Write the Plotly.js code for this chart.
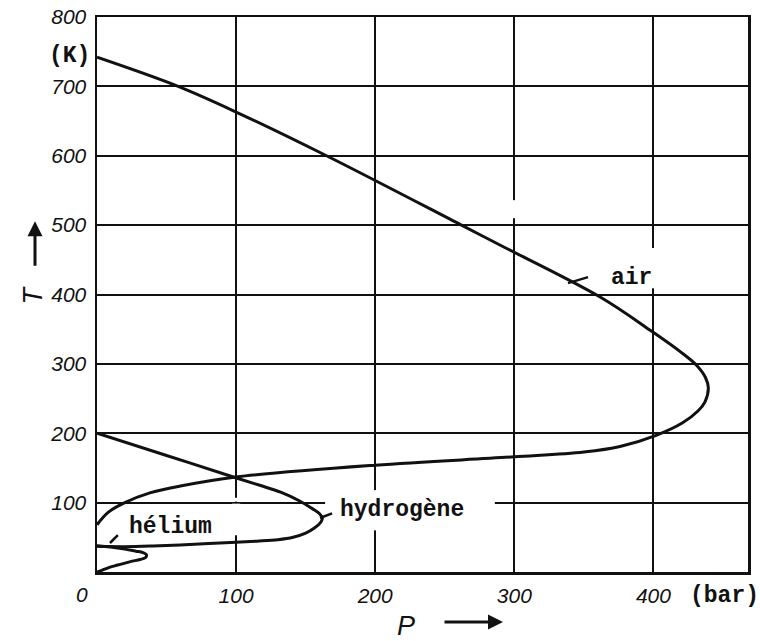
<!DOCTYPE html>
<html>
<head>
<meta charset="utf-8">
<script src="https://cdn.plot.ly/plotly-3.0.1.min.js"></script>
<style>html,body{margin:0;padding:0;background:#fff;}#chart{width:760px;height:641px;}</style>
</head>
<body>
<div id="chart"></div>
<script>
// Inversion curves (Joule-Thomson): pressure p (bar) vs temperature T (K)
const airP = [0, 57, 100, 165, 262, 290, 362, 398, 419, 431, 437.5, 439.5, 437, 432, 421, 402, 376, 350, 300, 200, 100, 60, 38, 20, 8, 0];
const airT = [742, 701, 663, 600, 500, 471, 396, 348, 318, 298, 280, 265, 245, 232, 215, 197, 181, 173, 166, 154, 137, 124, 114, 100, 86, 68];

const h2P = [0, 50, 98, 117, 132, 145, 155, 160, 162, 161, 156, 150, 141, 130, 115, 100, 70, 40, 20, 0];
const h2T = [200, 168, 137, 125, 115, 103, 91, 84, 78, 72, 63, 56, 50, 46.5, 44.5, 43, 40, 37.5, 36.5, 37];

const heP = [0, 10, 20, 28, 33, 35.5, 35, 31, 24, 15, 8, 3, 0];
const heT = [38, 36, 33, 30, 28, 25, 21, 18, 15, 10, 6, 2, 0];

const xTicks = [100, 200, 300, 400];
const yTicks = [100, 200, 300, 400, 500, 600, 700, 800];

const labels = [
  {text: 'air', p: 384.6, T: 423.6},
  {text: 'hydrogène', p: 219, T: 89},
  {text: 'hélium', p: 52.5, T: 65}
];

const curveLine = {color: '#111', width: 3, shape: 'spline', smoothing: 1};
const traces = [
  {x: airP, y: airT, mode: 'lines', line: curveLine, name: 'air', hoverinfo: 'skip'},
  {x: h2P, y: h2T, mode: 'lines', line: curveLine, name: 'hydrogène', hoverinfo: 'skip'},
  {x: heP, y: heT, mode: 'lines', line: curveLine, name: 'hélium', hoverinfo: 'skip'}
];

const typeFont = {family: 'Liberation Mono, DejaVu Sans Mono, monospace', size: 23, color: '#111', weight: 'bold'};
const tickFontX = {family: 'Liberation Sans, DejaVu Sans, sans-serif', size: 21, color: '#111', style: 'italic'};
const tickFontY = {family: 'Liberation Sans, DejaVu Sans, sans-serif', size: 21, color: '#111', style: 'italic'};
const bigItalic = {family: 'Liberation Sans, sans-serif', size: 27, color: '#111', style: 'italic'};

const px = v => (v - 97) / 651;
const py = v => (572 - v) / 554;

const annotations = labels.map(l => ({
  x: l.p, y: l.T, xref: 'x', yref: 'y', text: l.text, showarrow: false, font: typeFont,
  xanchor: 'center', yanchor: 'middle'
}));
const paperText = (x, y, text, font, extra) => Object.assign({
  xref: 'paper', yref: 'paper', x: px(x), y: py(y), text, showarrow: false, font,
  xanchor: 'center', yanchor: 'middle'
}, extra || {});
annotations.push(
  paperText(69, 57, '(K)', typeFont),
  paperText(724, 596, '(bar)', typeFont),
  paperText(82, 594, '0', tickFontX),
  paperText(406, 626, 'P', bigItalic),
  paperText(33, 296, 'T', bigItalic, {textangle: -90}),
  {xref: 'paper', yref: 'paper', x: px(35), y: py(222), text: '', showarrow: true,
   ax: 0, ay: 46, arrowhead: 2, arrowsize: 1, arrowwidth: 3, arrowcolor: '#111'},
  {xref: 'paper', yref: 'paper', x: px(503), y: py(622), text: '', showarrow: true,
   ax: -60, ay: 0, arrowhead: 2, arrowsize: 1, arrowwidth: 3, arrowcolor: '#111'}
);

const gap = (x0, x1, y0, y1) => ({type: 'rect', xref: 'x', yref: 'y', x0, x1, y0, y1,
  fillcolor: '#fff', line: {width: 0}, layer: 'between'});
const leader = (x0, y0, x1, y1) => ({type: 'line', xref: 'x', yref: 'y', x0, y0, x1, y1,
  line: {color: '#111', width: 2.5}});

const shapes = [
  gap(164, 286, 96, 104),
  gap(196, 204, 60, 118),
  gap(97, 103, 53, 98.5),
  gap(97, 103, 101.5, 107),
  gap(296, 304, 510, 536),
  gap(396, 404, 409, 467),
  leader(338.6, 416.4, 353, 425),
  leader(160.3, 77.8, 169, 84.6),
  leader(9.3, 41.8, 15, 53.3)
];

const axisCommon = {
  showgrid: true, gridcolor: '#111', gridwidth: 2,
  showline: true, mirror: true, linecolor: '#111', linewidth: 2.5,
  zeroline: false, ticks: '', fixedrange: true
};

const layout = {
  width: 760, height: 641,
  margin: {l: 97, r: 12, t: 17, b: 69},
  paper_bgcolor: '#fff', plot_bgcolor: '#fff',
  showlegend: false,
  xaxis: Object.assign({}, axisCommon, {range: [0, 468], tickvals: xTicks, tickfont: tickFontX, ticklabelstandoff: 3}),
  yaxis: Object.assign({}, axisCommon, {range: [0, 800], tickvals: yTicks, tickfont: tickFontY, ticklabelstandoff: 4}),
  annotations: annotations,
  shapes: shapes
};

Plotly.newPlot('chart', traces, layout, {displayModeBar: false, staticPlot: true});
</script>
</body>
</html>
